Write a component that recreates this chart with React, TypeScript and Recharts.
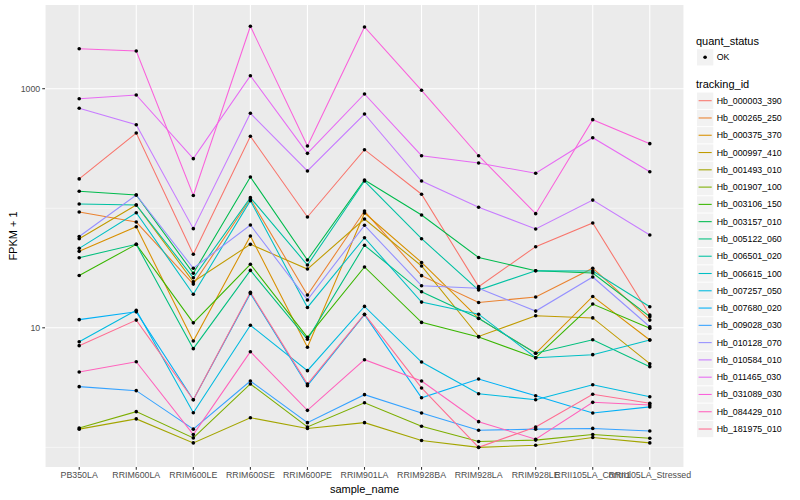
import React from 'react';
import { LineChart, Line, XAxis, YAxis, CartesianGrid } from 'recharts';

const samples = [
  'PB350LA', 'RRIM600LA', 'RRIM600LE', 'RRIM600SE', 'RRIM600PE', 'RRIM901LA',
  'RRIM928BA', 'RRIM928LA', 'RRIM928LE', 'RRII105LA_Control', 'RRII105LA_Stressed',
];

const trackingIds = [
  'Hb_000003_390', 'Hb_000265_250', 'Hb_000375_370', 'Hb_000997_410', 'Hb_001493_010',
  'Hb_001907_100', 'Hb_003106_150', 'Hb_003157_010', 'Hb_005122_060', 'Hb_006501_020',
  'Hb_006615_100', 'Hb_007257_050', 'Hb_007680_020', 'Hb_009028_030', 'Hb_010128_070',
  'Hb_010584_010', 'Hb_011465_030', 'Hb_031089_030', 'Hb_084429_010', 'Hb_181975_010',
];

const seriesColors = [
  '#F8766D', '#EA8331', '#D89000', '#C09B00', '#A3A500', '#7CAE00', '#39B600', '#00BB4E',
  '#00BF7D', '#00C1A3', '#00BFC4', '#00BAE0', '#00B0F6', '#35A2FF', '#9590FF', '#C77CFF',
  '#E76BF3', '#FA62DB', '#FF62BC', '#FF6C91',
];

const Hb_000003_390 = [176, 426, 41.2, 400, 84.5, 309, 131, 22.1, 47.7, 75.3, 12.8];
const Hb_000265_250 = [93.0, 76.7, 23.2, 119.5, 18.8, 94.8, 27.3, 16.3, 18.1, 31.5, 11.6];
const Hb_000375_370 = [43.6, 70.1, 7.76, 58.6, 6.87, 91.3, 35.2, 12.0, 6.12, 18.3, 7.9];
const Hb_000997_410 = [55.6, 106.5, 24.3, 49.9, 31.0, 81.3, 32.9, 8.46, 12.6, 12.1, 5.01];
const Hb_001493_010 = [1.42, 1.73, 1.09, 1.77, 1.44, 1.61, 1.14, 1.0, 1.04, 1.21, 1.09];
const Hb_001907_100 = [1.45, 1.99, 1.2, 3.39, 1.48, 2.36, 1.5, 1.12, 1.15, 1.28, 1.19];
const Hb_003106_150 = [27.4, 49.9, 11.0, 34.0, 8.33, 32.3, 11.1, 8.38, 5.62, 15.8, 9.9];
const Hb_003157_010 = [138.6, 129.1, 28.6, 182.5, 36.9, 172.3, 87.8, 38.7, 30.0, 28.7, 12.4];
const Hb_005122_060 = [38.6, 49.9, 6.69, 30.2, 8.01, 49.0, 20.0, 12.0, 6.12, 7.95, 4.73];
const Hb_006501_020 = [108.5, 106.5, 26.2, 122.6, 33.5, 169.0, 55.6, 20.7, 30.0, 29.9, 15.0];
const Hb_006615_100 = [46.2, 91.8, 19.1, 115.7, 14.8, 56.7, 16.4, 13.0, 5.62, 5.96, 7.9];
const Hb_007257_050 = [7.65, 14.0, 1.95, 10.5, 4.38, 15.1, 5.17, 2.81, 2.5, 3.34, 2.65];
const Hb_007680_020 = [11.7, 13.6, 2.5, 19.4, 3.28, 12.9, 2.6, 3.73, 2.7, 1.94, 2.18];
const Hb_009028_030 = [3.22, 2.98, 1.42, 3.59, 1.61, 2.76, 1.94, 1.39, 1.42, 1.44, 1.37];
const Hb_010128_070 = [58.0, 129.1, 31.5, 72.4, 17.1, 72.0, 22.5, 21.4, 13.8, 26.6, 10.2];
const Hb_010584_010 = [686, 500, 67.5, 623, 205, 614, 169, 102, 67.1, 117, 59.8];
const Hb_011465_030 = [825, 886, 260, 1285, 288, 903, 275, 239, 196, 389, 202];
const Hb_031089_030 = [2161, 2068, 128, 3327, 332, 3283, 970, 275, 90.1, 551, 347];
const Hb_084429_010 = [4.27, 5.2, 1.28, 6.31, 2.04, 5.41, 3.59, 1.64, 1.17, 2.38, 2.26];
const Hb_181975_010 = [7.09, 11.6, 2.5, 19.8, 3.39, 13.0, 3.14, 1.0, 1.48, 2.78, 2.34];

const seriesValues = [
  Hb_000003_390, Hb_000265_250, Hb_000375_370, Hb_000997_410, Hb_001493_010,
  Hb_001907_100, Hb_003106_150, Hb_003157_010, Hb_005122_060, Hb_006501_020,
  Hb_006615_100, Hb_007257_050, Hb_007680_020, Hb_009028_030, Hb_010128_070,
  Hb_010584_010, Hb_011465_030, Hb_031089_030, Hb_084429_010, Hb_181975_010,
];

const yTicks = [10, 1000];
const yMinorGrid = [1, 100];

const data = samples.map((s, i) => {
  const row: Record<string, any> = { sample_name: s };
  trackingIds.forEach((id, k) => {
    row[id] = seriesValues[k][i];
  });
  return row;
});

const FONT = '"Liberation Sans", Arial, Helvetica, sans-serif';

export default function App() {
  return (
    <div style={{ position: 'absolute', left: 0, top: 0, width: 800, height: 500, fontFamily: FONT, background: '#fff' }}>
      <LineChart
        width={800}
        height={500}
        data={data}
        margin={{ top: 5, right: 116, bottom: 0, left: 0 }}
      >
        <CartesianGrid fill="#EBEBEB" stroke="#FFFFFF" strokeWidth={1.07} horizontalValues={yTicks} />
        <CartesianGrid stroke="#FFFFFF" strokeWidth={0.53} horizontalValues={yMinorGrid} vertical={false} />
        <XAxis
          dataKey="sample_name"
          interval={0}
          padding={{ left: 34.2, right: 34.2 }}
          height={33}
          axisLine={false}
          tickLine={{ stroke: '#333333', strokeWidth: 1.07 }}
          tickSize={2.75}
          tickMargin={2}
          tick={{ fill: '#4D4D4D', fontSize: 8.8, fontFamily: FONT }}
        />
        <YAxis
          type="number"
          scale="log"
          domain={[0.685, 5013]}
          allowDataOverflow
          ticks={yTicks}
          width={45}
          axisLine={false}
          tickLine={{ stroke: '#333333', strokeWidth: 1.07 }}
          tickSize={2.75}
          tickMargin={2}
          tick={{ fill: '#4D4D4D', fontSize: 8.8, fontFamily: FONT }}
        />
        {trackingIds.map((id, k) => (
          <Line
            key={id}
            type="linear"
            dataKey={id}
            stroke={seriesColors[k]}
            strokeWidth={1.07}
            dot={false}
            activeDot={false}
            isAnimationActive={false}
          />
        ))}
        {trackingIds.map((id) => (
          <Line
            key={id + '-pts'}
            type="linear"
            dataKey={id}
            stroke="none"
            strokeWidth={0}
            dot={{ r: 1.8, fill: '#000000', stroke: '#000000', strokeWidth: 0 }}
            activeDot={false}
            legendType="none"
            isAnimationActive={false}
          />
        ))}
      </LineChart>
      <svg
        width={800}
        height={500}
        style={{ position: 'absolute', left: 0, top: 0, pointerEvents: 'none', fontFamily: FONT }}
      >
        <text x={13} y={236} fontSize={11} fill="#000" textAnchor="middle" dominantBaseline="central" transform="rotate(-90 13 236)">
          FPKM + 1
        </text>
        <text x={364.5} y={489} fontSize={11} fill="#000" textAnchor="middle" dominantBaseline="central">
          sample_name
        </text>
        <text x={696} y={40.7} fontSize={11} fill="#000" dominantBaseline="central">quant_status</text>
        <rect x={697} y={57.3 - 8.14} width={16.3} height={16.3} fill="#F2F2F2" />
        <circle cx={705.1} cy={57.3} r={1.8} fill="#000" />
        <text x={716.7} y={57.3} fontSize={8.8} fill="#000" dominantBaseline="central">OK</text>
        <text x={696} y={84} fontSize={11} fill="#000" dominantBaseline="central">tracking_id</text>
        {trackingIds.map((id, k) => {
          const cy = 100.7 + k * 17.28;
          return (
            <g key={id}>
              <rect x={697} y={cy - 8.14} width={16.3} height={16.3} fill="#F2F2F2" />
              <line x1={698.6} x2={711.7} y1={cy} y2={cy} stroke={seriesColors[k]} strokeWidth={1.07} />
              <text x={716.7} y={cy} fontSize={8.8} fill="#000" dominantBaseline="central">{id}</text>
            </g>
          );
        })}
      </svg>
    </div>
  );
}
